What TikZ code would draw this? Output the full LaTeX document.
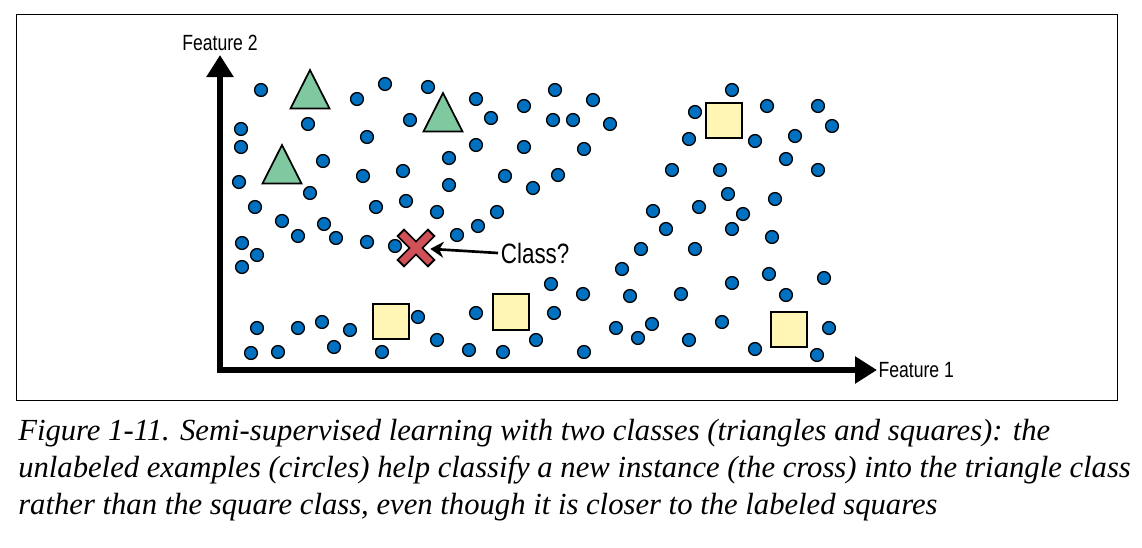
\documentclass[tikz,border=0pt]{standalone}
\usepackage{fontspec}
\setmainfont{Liberation Serif}
\newfontfamily\axisfont[FakeStretch=0.8]{Liberation Sans}
\usetikzlibrary{arrows.meta,positioning}
\definecolor{dotblue}{RGB}{0,112,192}
\definecolor{trigreen}{RGB}{128,200,160}
\definecolor{sqyellow}{RGB}{255,245,180}
\definecolor{crossred}{RGB}{208,80,88}
\tikzset{
    frame line/.style={line width=0.75pt},
    axis line/.style={line width=4.5pt,line join=miter,{Triangle[length=16.5pt,width=19.5pt]}-{Triangle[length=16.5pt,width=19.5pt]}},
    unlabeled/.style={circle,draw=black,fill=dotblue,line width=1pt,inner sep=0pt,minimum size=9.6pt},
    labeled tri/.style={draw=black,fill=trigreen,line width=1.3pt,line join=miter},
    labeled sq/.style={rectangle,draw=black,fill=sqyellow,line width=1.6pt,inner sep=0pt,minimum size=26.5pt},
    new instance/.style={rectangle,inner sep=0pt,minimum size=21pt},
    arr/.style={-{Stealth[length=10pt,width=12pt]},line width=2pt},
}
\tikzstyle{every node}=[font=\axisfont]

\begin{document}
\begin{tikzpicture}[x=0.75pt,y=-0.75pt]
    \useasboundingbox (0,0) rectangle (1142,547);
    \draw[frame line] (16.5,14.5) rectangle (1117,400);

    % axes
    \coordinate (Origin) at (220,370);
    \coordinate (YTip) at (220,55);
    \coordinate (XTip) at (877,370);
    \draw[axis line] (YTip) -- (Origin) -- (XTip);
    \node[font=\axisfont\fontsize{16.5}{16.5}\selectfont] (ylab) at (220,43) {Feature 2};
    \node[font=\axisfont\fontsize{16.5}{16.5}\selectfont,anchor=west,inner sep=1pt] (xlab) at (XTip) {Feature 1};

    % unlabeled examples
    \foreach \x/\y [count=\i] in {261/90, 357/99, 385/84, 428/87, 476/99, 524/106, 555/90, 593/100,
        308/124, 410/120, 491/118, 553/120, 573/120, 610/124, 241/129, 241/147, 367/137, 476/145,
        524/147, 584/149, 323/161, 449/158, 239/182, 363/176, 403/171, 449/185, 505/176, 558/175,
        533/188, 310/193, 255/207, 376/207, 406/201, 437/212, 497/212, 282/221, 324/224, 298/236,
        336/238, 367/242, 395/246, 457/235, 478/226, 242/243, 257/255, 242/267,
        732/90, 695/112, 767/106, 818/106, 832/126, 689/139, 755/141, 795/136, 786/159, 672/170,
        720/170, 818/170, 728/194, 775/199, 653/211, 699/207, 743/214, 666/229, 732/229, 772/237,
        641/249, 695/249, 622/269, 732/283, 769/274, 824/278, 786/295, 551/284, 583/294, 630/296,
        681/294, 722/322, 829/328, 755/349, 817/355,
        554/313, 652/324, 616/328, 638/338, 689/340, 536/340, 503/352, 584/352, 476/313, 469/350,
        437/340, 418/317, 257/328, 298/328, 322/322, 350/330, 251/353, 278/352, 334/347, 382/352}
        \node[unlabeled] (c\i) at (\x,\y) {};

    % labeled examples
    \foreach \x/\y in {310/70, 443/93, 282/145}
        \draw[labeled tri] (\x,\y) -- ++(19.5,38.5) -- ++(-39,0) -- cycle;
    \node[labeled sq] (sq1) at (724,120.5) {};
    \node[labeled sq] (sq2) at (391,321.5) {};
    \node[labeled sq] (sq3) at (511,312) {};
    \node[labeled sq] (sq4) at (789,329.5) {};

    % new instance
    \node[new instance] (new) at (416,248) {};
    \foreach \a/\b in {north west/south east, north east/south west}
        \draw[line width=8pt,shorten <=-1.6pt,shorten >=-1.6pt] (new.\a) -- (new.\b);
    \foreach \a/\b in {north west/south east, north east/south west}
        \draw[crossred,line width=5.4pt] (new.\a) -- (new.\b);
    \node[font=\axisfont\fontsize{21}{21}\selectfont,anchor=west,inner sep=2pt] (cls) at (498,253) {Class?};
    \draw[arr] (cls.west) -- (new);

    % caption
    \node[font=\itshape\fontsize{23}{27.75}\selectfont,anchor=north west,align=left,inner sep=0pt] (caption) at (18,419)
        {Figure 1-11. Semi-supervised learning with two classes (triangles and squares): the\\
         unlabeled examples (circles) help classify a new instance (the cross) into the triangle class\\
         rather than the square class, even though it is closer to the labeled squares};
\end{tikzpicture}
\end{document}
